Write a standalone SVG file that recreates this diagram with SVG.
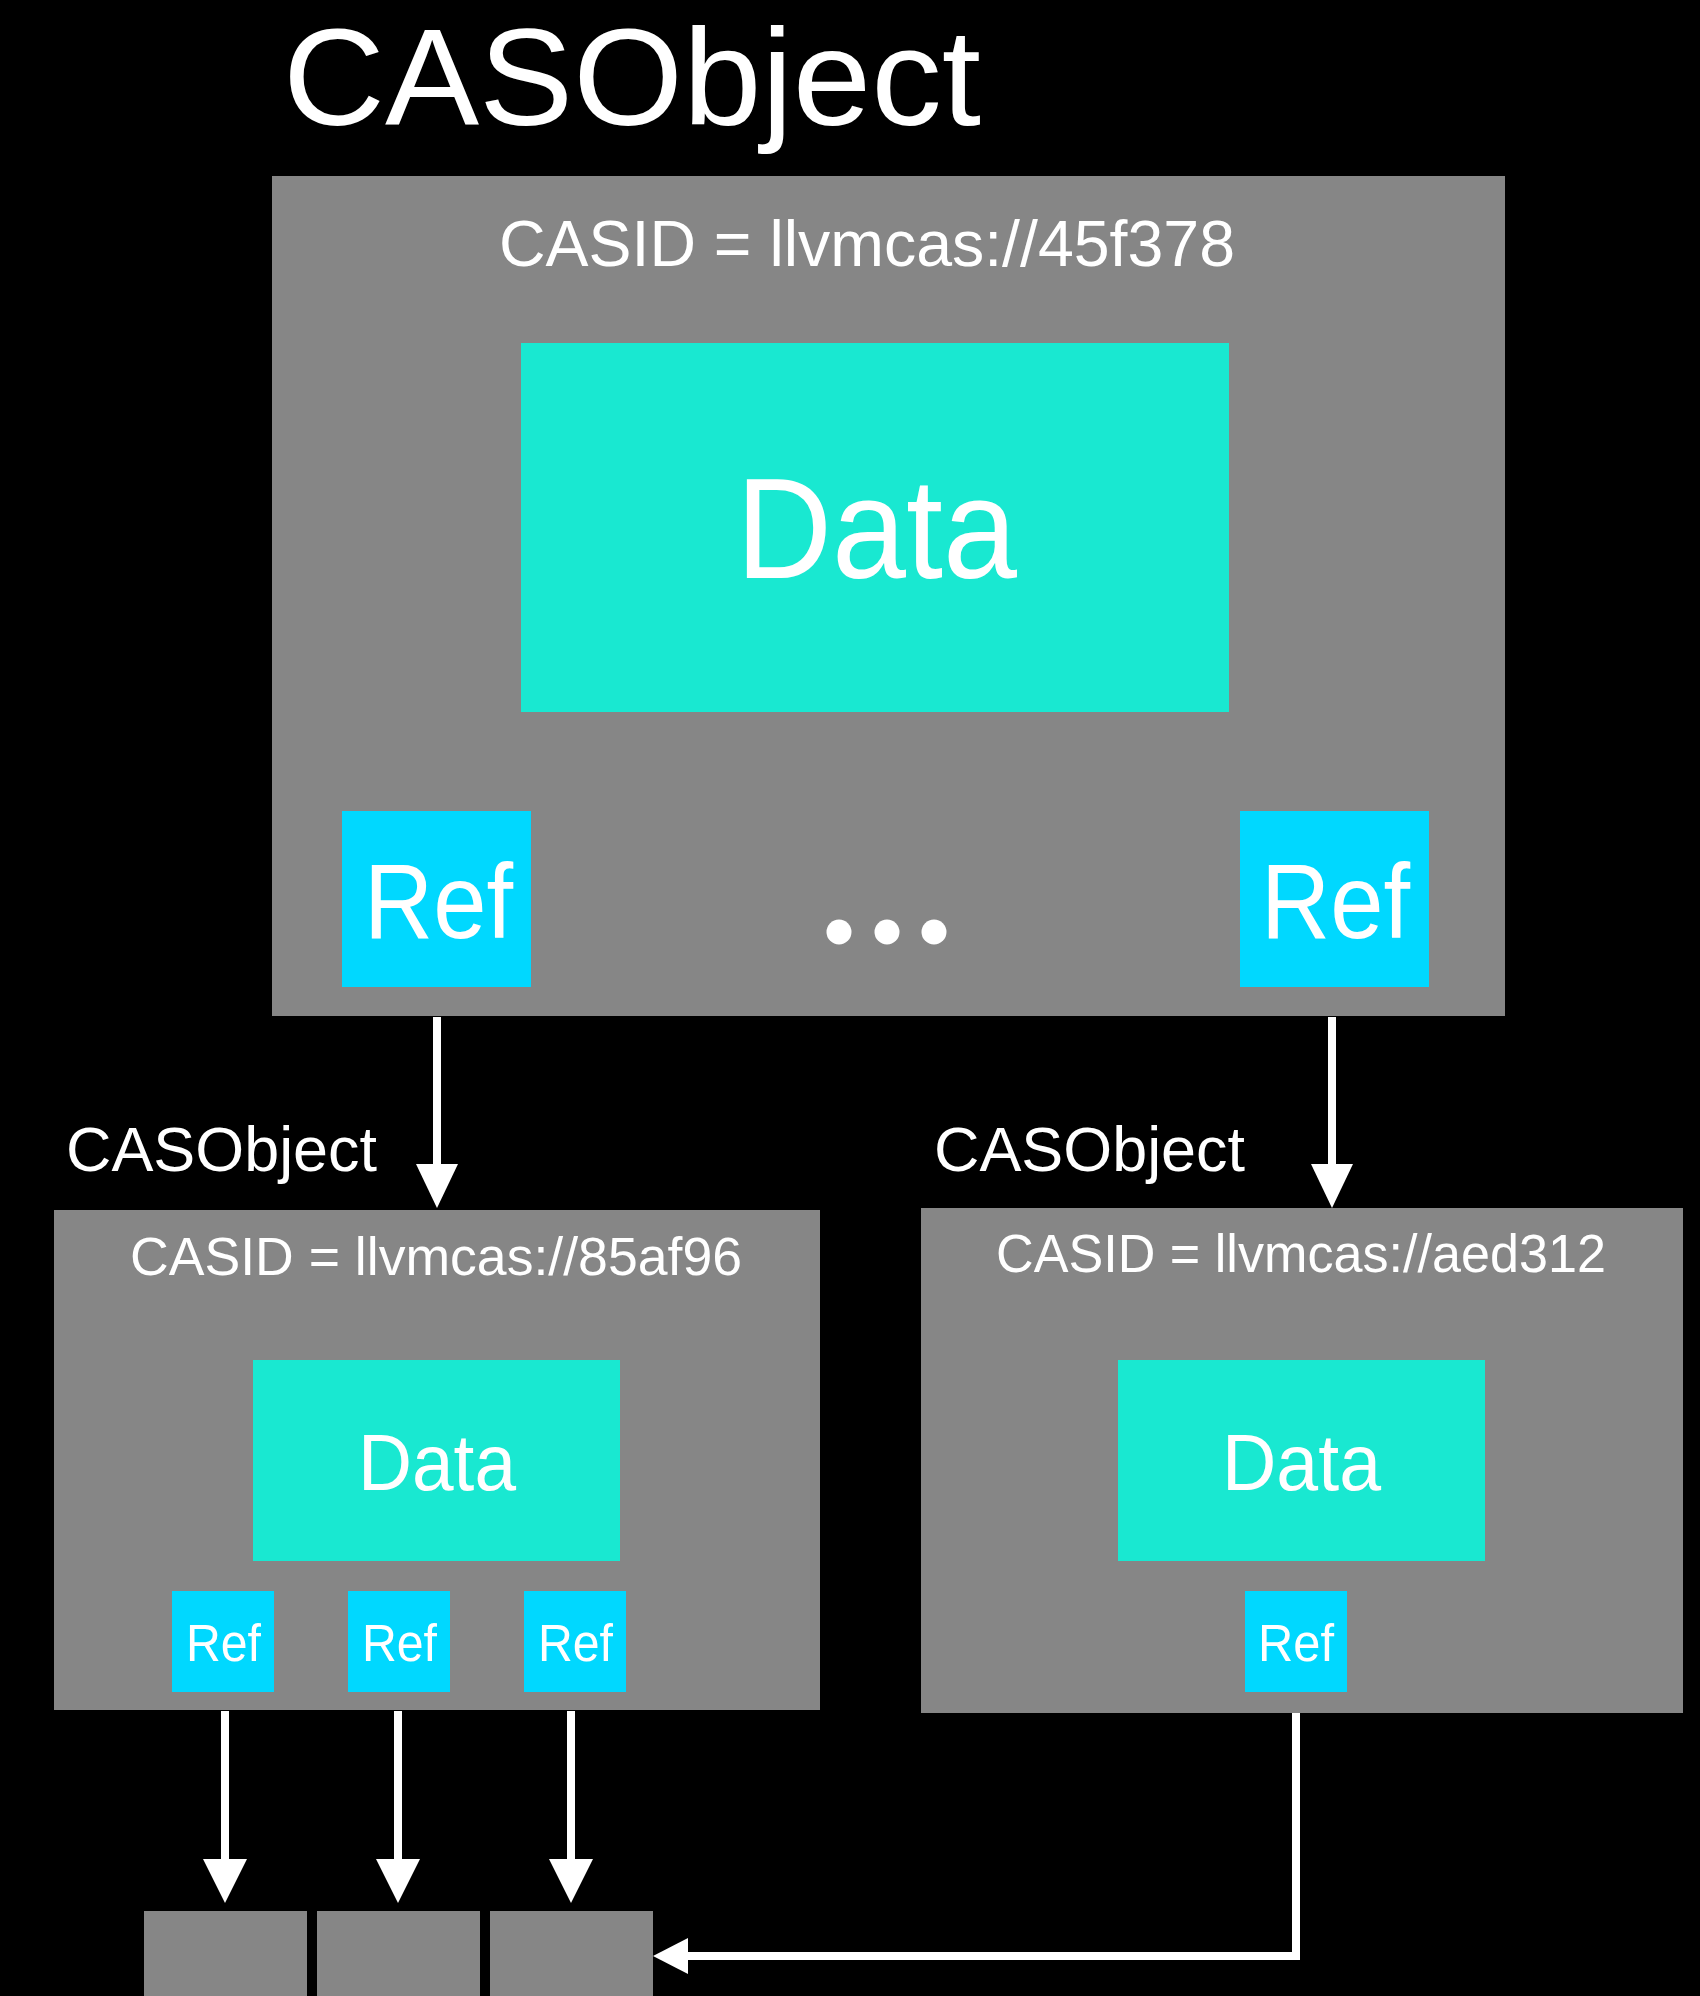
<svg xmlns="http://www.w3.org/2000/svg" width="1700" height="1996" viewBox="0 0 1700 1996">
  <style>
    text { font-family: "Liberation Sans", Arial, sans-serif; fill: #ffffff; }
    .obj { fill: #868686; }
    .data { fill: #19e8d1; }
    .ref { fill: #00d8ff; }
    .wire { fill: none; stroke: #ffffff; stroke-width: 8; }
    .head { fill: #ffffff; }
  </style>
  <rect width="1700" height="1996" fill="#000000"/>

  <!-- heading -->
  <text id="title" x="283" y="125" font-size="137" textLength="698" lengthAdjust="spacingAndGlyphs">CASObject</text>

  <!-- root object -->
  <g id="obj-45f378">
    <rect class="obj" x="272" y="176" width="1233" height="840"/>
    <text x="499" y="266" font-size="64" textLength="736" lengthAdjust="spacingAndGlyphs">CASID = llvmcas://45f378</text>
    <g id="obj-45f378-data">
      <rect class="data" x="521" y="343" width="708" height="369"/>
      <text x="736" y="578" font-size="142" textLength="281" lengthAdjust="spacingAndGlyphs">Data</text>
    </g>
    <g id="obj-45f378-ref1">
      <rect class="ref" x="342" y="811" width="189" height="176"/>
      <text x="364" y="938" font-size="106" textLength="149" lengthAdjust="spacingAndGlyphs">Ref</text>
    </g>
    <g id="obj-45f378-ellipsis">
      <circle cx="839" cy="932" r="12.5" fill="#ffffff"/>
      <circle cx="887" cy="932" r="12.5" fill="#ffffff"/>
      <circle cx="934" cy="932" r="12.5" fill="#ffffff"/>
    </g>
    <g id="obj-45f378-ref2">
      <rect class="ref" x="1240" y="811" width="189" height="176"/>
      <text x="1261" y="938" font-size="106" textLength="149" lengthAdjust="spacingAndGlyphs">Ref</text>
    </g>
  </g>

  <!-- child object 85af96 -->
  <g id="obj-85af96">
    <text x="66" y="1171" font-size="63" textLength="311" lengthAdjust="spacingAndGlyphs">CASObject</text>
    <rect class="obj" x="54" y="1210" width="766" height="500"/>
    <text x="130" y="1275" font-size="54" textLength="612" lengthAdjust="spacingAndGlyphs">CASID = llvmcas://85af96</text>
    <g id="obj-85af96-data">
      <rect class="data" x="253" y="1360" width="367" height="201"/>
      <text x="358" y="1490" font-size="80" textLength="158" lengthAdjust="spacingAndGlyphs">Data</text>
    </g>
    <g id="obj-85af96-ref1">
      <rect class="ref" x="172" y="1591" width="102" height="101"/>
      <text x="186" y="1661" font-size="51" textLength="75" lengthAdjust="spacingAndGlyphs">Ref</text>
    </g>
    <g id="obj-85af96-ref2">
      <rect class="ref" x="348" y="1591" width="102" height="101"/>
      <text x="362" y="1661" font-size="51" textLength="75" lengthAdjust="spacingAndGlyphs">Ref</text>
    </g>
    <g id="obj-85af96-ref3">
      <rect class="ref" x="524" y="1591" width="102" height="101"/>
      <text x="538" y="1661" font-size="51" textLength="75" lengthAdjust="spacingAndGlyphs">Ref</text>
    </g>
  </g>

  <!-- child object aed312 -->
  <g id="obj-aed312">
    <text x="934" y="1171" font-size="63" textLength="311" lengthAdjust="spacingAndGlyphs">CASObject</text>
    <rect class="obj" x="921" y="1208" width="762" height="505"/>
    <text x="996" y="1272" font-size="53" textLength="610" lengthAdjust="spacingAndGlyphs">CASID = llvmcas://aed312</text>
    <g id="obj-aed312-data">
      <rect class="data" x="1118" y="1360" width="367" height="201"/>
      <text x="1222" y="1490" font-size="80" textLength="159" lengthAdjust="spacingAndGlyphs">Data</text>
    </g>
    <g id="obj-aed312-ref1">
      <rect class="ref" x="1245" y="1591" width="102" height="101"/>
      <text x="1258" y="1661" font-size="51" textLength="76" lengthAdjust="spacingAndGlyphs">Ref</text>
    </g>
  </g>

  <!-- leaf objects -->
  <g id="leaf-1"><rect class="obj" x="144" y="1911" width="163" height="85"/></g>
  <g id="leaf-2"><rect class="obj" x="317" y="1911" width="163" height="85"/></g>
  <g id="leaf-3"><rect class="obj" x="490" y="1911" width="163" height="85"/></g>

  <!-- references between objects -->
  <g id="connectors">
    <line class="wire" x1="437" y1="1017" x2="437" y2="1166"/>
    <polygon class="head" points="416,1164 458,1164 437,1208"/>
    <line class="wire" x1="1332" y1="1017" x2="1332" y2="1166"/>
    <polygon class="head" points="1311,1164 1353,1164 1332,1208"/>

    <line class="wire" x1="225" y1="1711" x2="225" y2="1861"/>
    <polygon class="head" points="203,1859 247,1859 225,1903"/>
    <line class="wire" x1="398" y1="1711" x2="398" y2="1861"/>
    <polygon class="head" points="376,1859 420,1859 398,1903"/>
    <line class="wire" x1="571" y1="1711" x2="571" y2="1861"/>
    <polygon class="head" points="549,1859 593,1859 571,1903"/>

    <polyline class="wire" points="1296,1713 1296,1956 686,1956"/>
    <polygon class="head" points="688,1938 688,1974 653,1956"/>
  </g>
</svg>
